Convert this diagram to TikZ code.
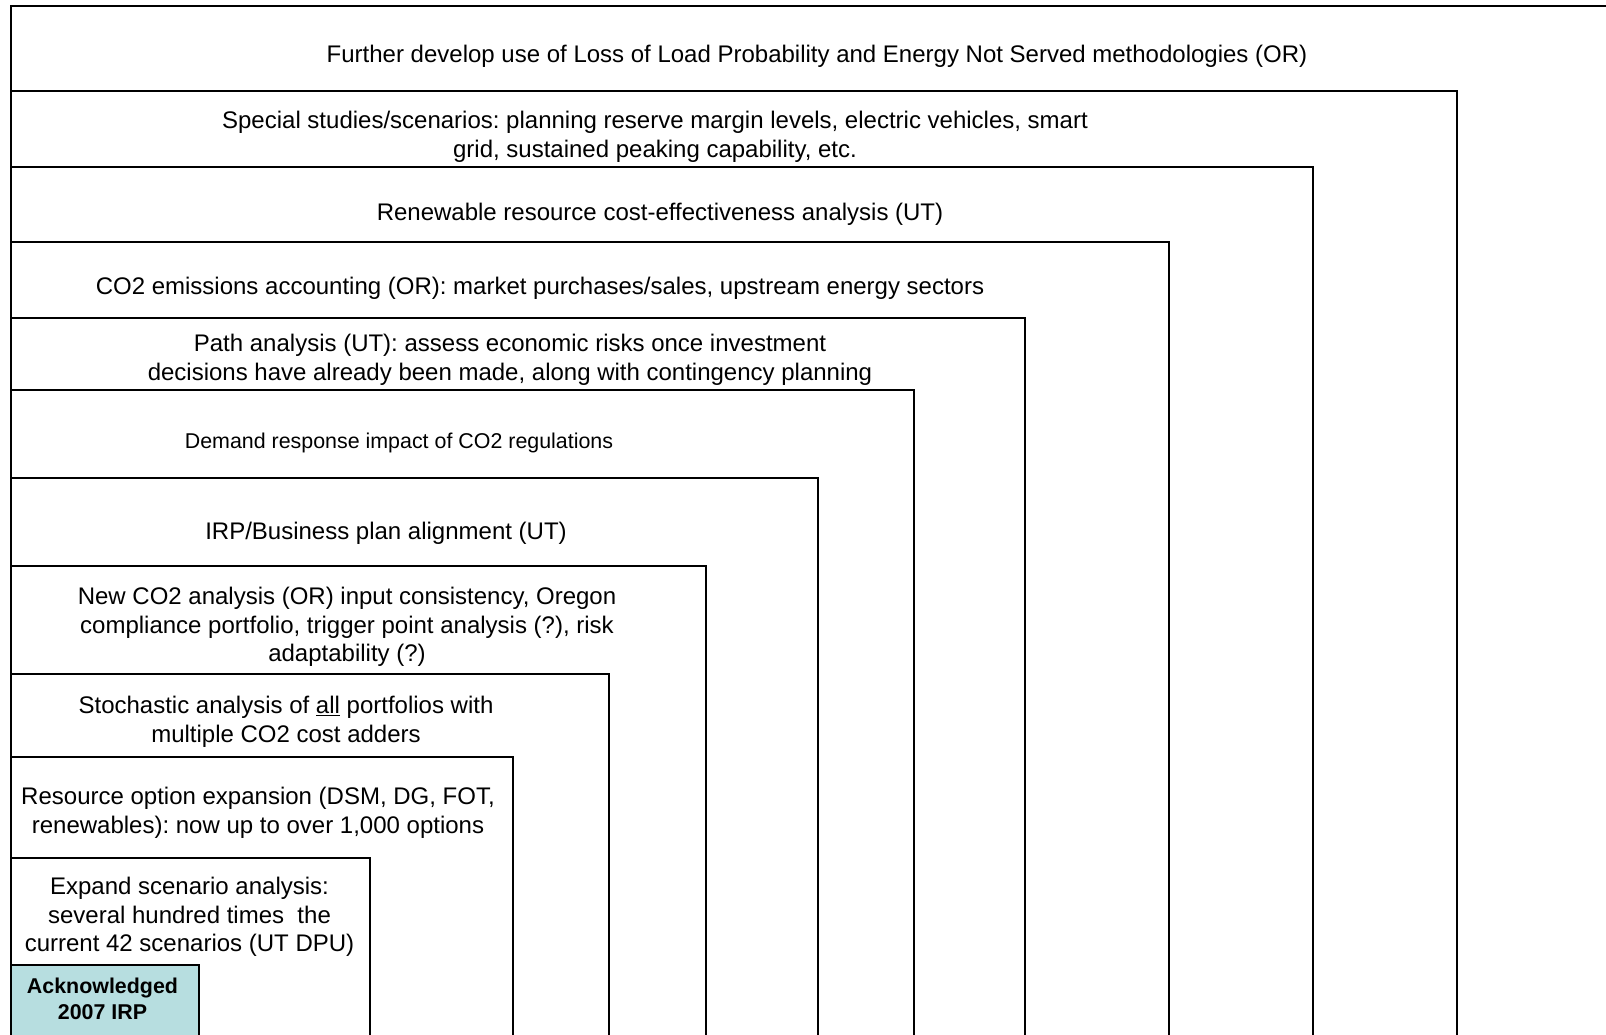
\documentclass[tikz,border=0pt]{standalone}
\usepackage{fontspec}
\setmainfont{Liberation Sans}
\usetikzlibrary{positioning}
\definecolor{ackteal}{RGB}{183,222,224}
\frenchspacing

\begin{document}
\begin{tikzpicture}[x=1pt,y=-1pt,
		lvl/.style={draw=black, line width=2pt},
		txt/.style={align=center, inner sep=0pt, font=\fontsize{24}{28.7}\selectfont},
		smalltxt/.style={align=center, inner sep=0pt, font=\fontsize{21.4}{24}\selectfont}]
			\useasboundingbox (0,0) rectangle (1606,1035);
			\clip (0,0) rectangle (1606,1035);
			% nested levels, the outer one runs off the page
			\draw[lvl] (11,1050) -- (11,6) -- (1620,6);
			\draw[lvl] (11,91) rectangle (1457,1050);
			\draw[lvl] (11,167) rectangle (1313,1050);
			\draw[lvl] (11,242) rectangle (1169,1050);
			\draw[lvl] (11,318) rectangle (1025,1050);
			\draw[lvl] (11,390) rectangle (914,1050);
			\draw[lvl] (11,478) rectangle (818,1050);
			\draw[lvl] (11,566) rectangle (706,1050);
			\draw[lvl] (11,674) rectangle (609,1050);
			\draw[lvl] (11,757) rectangle (513,1050);
			\draw[lvl] (11,858) rectangle (370,1050);
			\draw[lvl, fill=ackteal] (11,965) rectangle (199,1050);
			% labels
			\node at (817,56) [txt] (lolp) {Further develop use of Loss of Load Probability and Energy Not Served methodologies (OR)};
			\node at (655,137) [txt] (special) {Special studies/scenarios: planning reserve margin levels, electric vehicles, smart\\grid, sustained peaking capability, etc.};
			\node at (660,214) [txt] (renew) {Renewable resource cost-effectiveness analysis (UT)};
			\node at (540,288) [txt] (emis) {CO2 emissions accounting (OR): market purchases/sales, upstream energy sectors};
			\node at (510,360) [txt] (path) {Path analysis (UT): assess economic risks once investment\\decisions have already been made, along with contingency planning};
			\node at (399,443) [smalltxt] (demand) {Demand response impact of CO2 regulations};
			\node at (386,533) [txt] (irp) {IRP/Business plan alignment (UT)};
			\node at (347,627) [txt] (newco2) {New CO2 analysis (OR) input consistency, Oregon\\compliance portfolio, trigger point analysis (?), risk\\adaptability (?)};
			\node at (286,722) [txt] (stoch) {Stochastic analysis of \underline{all} portfolios with\\multiple CO2 cost adders};
			\node at (258,813) [txt] (resopt) {Resource option expansion (DSM, DG, FOT,\\renewables): now up to over 1,000 options};
			\node at (189.5,917) [txt] (scen) {Expand scenario analysis:\\several hundred times\ \ the\\current 42 scenarios (UT DPU)};
			\node at (102.5,999) [smalltxt, font=\fontsize{21.4}{25.5}\selectfont\bfseries] (ack) {Acknowledged\\2007 IRP};
\end{tikzpicture}
\end{document}
